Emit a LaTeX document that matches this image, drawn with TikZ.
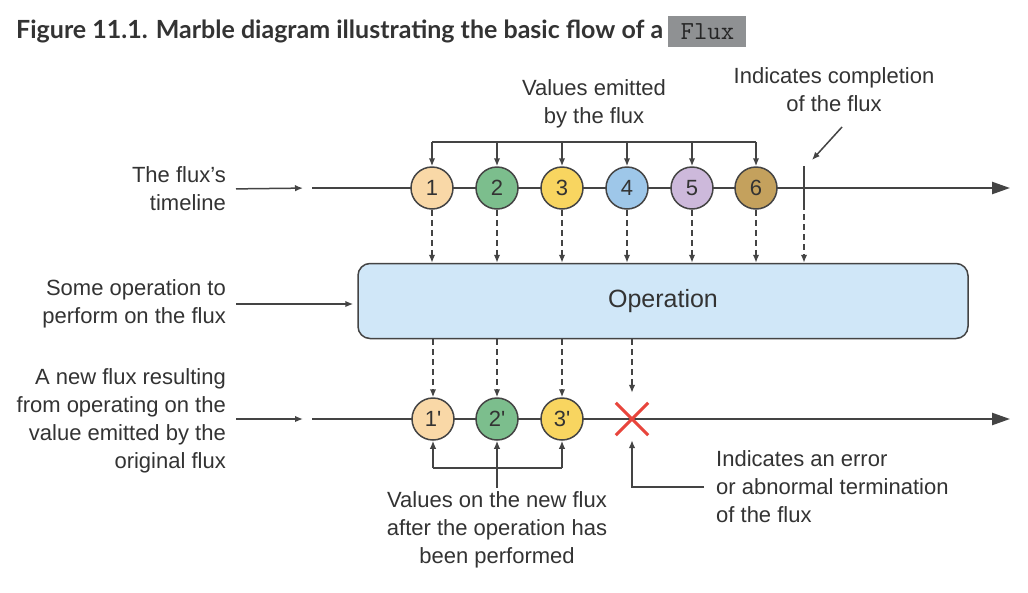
\documentclass[tikz,border=0pt]{standalone}
\usepackage{fontspec}
\setmainfont{Liberation Sans}
\newfontfamily\titlefont{Lato}
\usetikzlibrary{arrows.meta}
\definecolor{txt}{HTML}{333333}
\definecolor{ln}{HTML}{444444}
\definecolor{mA}{HTML}{F9D8A7}
\definecolor{mB}{HTML}{7CBE8D}
\definecolor{mC}{HTML}{F8D560}
\definecolor{mD}{HTML}{9EC7E9}
\definecolor{mE}{HTML}{CDB9DB}
\definecolor{mF}{HTML}{C4A15D}
\definecolor{opfill}{HTML}{D0E7F8}
\definecolor{errred}{HTML}{E8453C}
\definecolor{codebg}{HTML}{8F9193}
\tikzset{
  lbl/.style={font=\fontsize{22}{28}\selectfont, text=txt, inner sep=0pt},
  marble/.style={circle, draw=ln, line width=1.5pt, minimum size=42pt, inner sep=0pt,
    font=\fontsize{22}{22}\selectfont, text=txt},
  arr/.style={draw=ln, line width=1.5pt, -{Latex[length=8pt,width=6.5pt]}},
  darr/.style={draw=ln, line width=1.5pt, dash pattern=on 6pt off 4pt, -{Latex[length=8pt,width=6.5pt]}},
  tline/.style={draw=ln, line width=2.4pt, -{Triangle[length=18pt,width=12pt]}},
  brk/.style={draw=ln, line width=1.5pt},
}
\begin{document}
\begin{tikzpicture}[x=1pt,y=-1pt]
\useasboundingbox[fill=white] (0,0) rectangle (1028,592);

% title
\node[anchor=base west, inner sep=0pt, text=txt, font=\titlefont\bfseries\fontsize{25}{28}\selectfont] (title) at (16,38)
  {Figure 11.1. Marble diagram illustrating the basic flow of a};
\node[fill=codebg, anchor=west, minimum width=78pt, minimum height=31pt, inner sep=0pt,
  font=\ttfamily\fontsize{26}{26}\selectfont, text=black!85] (code) at ([xshift=5pt]title.east |- 0,31.5) {Flux};

% timelines
\coordinate (t1s) at (312,188);
\coordinate (t1e) at (1010,188);
\coordinate (t2s) at (312,419);
\coordinate (t2e) at (1010,419);
\draw[tline] (t1s) -- (t1e);
\draw[tline] (t2s) -- (t2e);

% marbles top
\node[marble, fill=mA] (c1) at (432,188) {1};
\node[marble, fill=mB] (c2) at (497,188) {2};
\node[marble, fill=mC] (c3) at (562,188) {3};
\node[marble, fill=mD] (c4) at (627,188) {4};
\node[marble, fill=mE] (c5) at (692,188) {5};
\node[marble, fill=mF] (c6) at (756,188) {6};

% completion bar
\coordinate (barT) at (804,166);
\coordinate (barB) at (804,210);
\draw[draw=ln, line width=2.8pt] (barT) -- (barB);

% operation box
\node[draw=ln, line width=1.5pt, fill=opfill, rounded corners=12pt, minimum width=610pt,
  minimum height=75pt, inner sep=0pt, font=\fontsize{25}{25}\selectfont, text=txt] (op) at (663,301) {Operation};

% marbles bottom
\node[marble, fill=mA] (d1) at (433,419) {1\textquotesingle};
\node[marble, fill=mB] (d2) at (497,419) {2\textquotesingle};
\node[marble, fill=mC] (d3) at (562,419) {3\textquotesingle};
\node[minimum size=32pt, inner sep=0pt] (X) at (632,419) {};
\draw[errred, line width=3pt] (X.north west) -- (X.south east) (X.north east) -- (X.south west);

% top bracket
\coordinate (tb) at (0,142);
\draw[brk] (c1 |- tb) -- (c6 |- tb);
\foreach \c in {c1,c2,c3,c4,c5,c6} { \draw[arr] (\c |- tb) -- (\c.north); }
\node[lbl, align=center] (vals) at (594,104) {Values emitted\\by the flux};

% completion label
\node[lbl, align=center] (cmp) at (834,90) {Indicates completion\\of the flux};
\coordinate (cmpS) at (842,127);
\coordinate (cmpE) at (812,160);
\draw[arr] (cmpS) -- (cmpE);

% dashed arrows down to op
\foreach \c in {c1,c2,c3,c4,c5,c6} { \draw[darr] (\c.south) -- (\c.south |- op.north); }
\draw[darr] (barB) ++(0,4) -- (barB |- op.north);

% dashed arrows from op to bottom
\foreach \c in {d1,d2,d3} { \draw[darr] (op.south -| \c) -- (\c.north); }
\draw[darr, shorten >=10pt] (op.south -| X) -- (X.north);

% bottom bracket
\coordinate (bb) at (0,468);
\draw[brk] (d1 |- bb) -- (d3 |- bb);
\draw[arr] (d1 |- bb) -- (d1.south);
\draw[arr] (d3 |- bb) -- (d3.south);
\node[lbl, align=center] (newv) at (497,530) {Values on the new flux\\after the operation has\\been performed};
\draw[arr] (newv.north) ++(0,-4) -- (d2.south);

% error label
\node[lbl, align=left, anchor=west] (err) at (716,487) {Indicates an error\\or abnormal termination\\of the flux};
\draw[arr, shorten <=12pt, shorten >=5pt] (err.west) -- (err.west -| X) -- (X.south);

% left labels
\node[lbl, align=right, anchor=east] (l1) at (226,189) {The flux’s\\timeline};
\draw[arr, shorten <=10pt, shorten >=9pt] (l1.east) -- (t1s);
\node[lbl, align=right, anchor=east] (l2) at (226,304) {Some operation to\\perform on the flux};
\draw[arr, shorten <=10pt, shorten >=4pt] (l2.east) -- (op.west |- l2.east);
\node[lbl, align=right, anchor=east] (l3) at (226,421) {A new flux resulting\\from operating on the\\value emitted by the\\original flux};
\draw[arr, shorten <=10pt, shorten >=9pt] (l3.east |- t2s) -- (t2s);
\end{tikzpicture}
\end{document}
